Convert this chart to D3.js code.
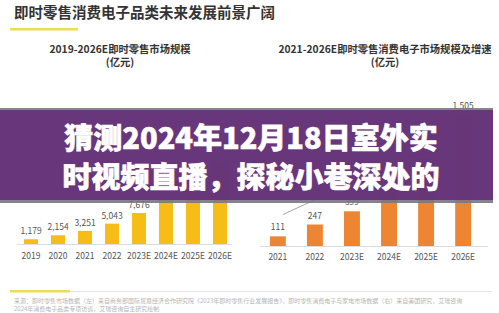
<!DOCTYPE html>
<html>
<head>
<meta charset="utf-8">
<script src="https://cdn.jsdelivr.net/npm/d3@7"></script>
<style>
  body { margin: 0; background: #fff; }
  svg { display: block; font-family: "Noto Sans CJK SC", "Noto Sans", sans-serif; }
</style>
</head>
<body>
<svg id="chart" width="499" height="313"></svg>
<script>
// left chart: 即时零售市场规模 (亿元)
var leftYears = ["2019", "2020", "2021", "2022", "2023E", "2024E", "2025E", "2026E"];
var leftValues = [1179, 2154, 3251, 5043, 7676, 11000, 15000, 20000];

// right chart: 即时零售消费电子市场规模 (亿元) + 增速 line
var rightYears = ["2021", "2022", "2023E", "2024E", "2025E", "2026E"];
var rightValues = [111, 247, 399, 640, 1000, 1505];
var rightGrowth = [24, 37, 54, 65, 72, 78];

var headline = "即时零售消费电子品类未来发展前景广阔";
var overlayLines = ["猜测2024年12月18日室外实", "时视频直播，探秘小巷深处的"];
var sourceLines = [
  "来源：即时零售市场数据（左）来自商务部国际贸易经济合作研究院《2023年即时零售行业发展报告》，即时零售消费电子与家电市场数据（右）来自美团研究，艾瑞咨询",
  "2024年消费电子品类专项访谈，艾瑞咨询自主研究绘制"
];

var fmt = d3.format(",");
var svg = d3.select("#chart");

// banner band limits, labels that would sit fully under it are not drawn
var bandTop = 108, bandBottom = 203;
function visible(y) { return y < bandTop + 4 || y > bandBottom + 1; }

/* page heading + underline */
svg.append("text").attr("x", 14).attr("y", 18)
  .attr("font-size", 14.5).attr("font-weight", "bold").attr("fill", "#333")
  .text(headline);
svg.append("rect").attr("x", 10).attr("y", 28).attr("width", 68).attr("height", 2.5)
  .attr("fill", "#eedb55");

/* chart subtitles */
function subtitle(cx, t1) {
  svg.append("text").attr("x", cx).attr("y", 52.5).attr("text-anchor", "middle")
    .attr("font-size", 10.3).attr("font-weight", "bold").attr("fill", "#333").text(t1);
  svg.append("text").attr("x", cx).attr("y", 66).attr("text-anchor", "middle")
    .attr("font-size", 10.3).attr("font-weight", "bold").attr("fill", "#333").text("(亿元)");
}
subtitle(120, "2019-2026E即时零售市场规模");
subtitle(385, "2021-2026E即时零售消费电子市场规模及增速");

/* left bars */
var xL = d3.scaleBand().domain(leftYears).range([17.5, 233.5]).paddingInner(0.48).paddingOuter(0.24);
var yL = d3.scaleLinear().domain([0, 7676]).range([244, 213]);

var gL = svg.append("g");
gL.append("line").attr("x1", 17).attr("x2", 232).attr("y1", 244.5).attr("y2", 244.5)
  .attr("stroke", "#ddd");
gL.selectAll("rect").data(leftValues).enter().append("rect")
  .attr("x", function(d, i) { return xL(leftYears[i]); })
  .attr("width", xL.bandwidth())
  .attr("y", function(d) { return yL(d); })
  .attr("height", function(d) { return yL(0) - yL(d); })
  .attr("fill", "#f6bd16");
gL.selectAll("text.val").data(leftValues.filter(function(d) { return visible(yL(d) - 5); }))
  .enter().append("text").attr("class", "val")
  .attr("x", function(d) { return xL(leftYears[leftValues.indexOf(d)]) + xL.bandwidth() / 2; })
  .attr("y", function(d) { return yL(d) - 5; })
  .attr("text-anchor", "middle").attr("font-size", 8.5).attr("fill", "#555")
  .text(function(d) { return fmt(d); });
gL.selectAll("text.cat").data(leftYears).enter().append("text").attr("class", "cat")
  .attr("x", function(d) { return xL(d) + xL.bandwidth() / 2; })
  .attr("y", 259)
  .attr("text-anchor", "middle").attr("font-size", 8.5).attr("fill", "#555")
  .text(function(d) { return d; });

/* right bars */
var xR = d3.scaleBand().domain(rightYears).range([259.5, 481.5]).paddingInner(0.57).paddingOuter(0.28);
var yR = d3.scaleLinear().domain([0, 1505]).range([246, 115]);
var yG = d3.scaleLinear().domain([0, 100]).range([246, 115]);

var gR = svg.append("g");
gR.append("line").attr("x1", 260).attr("x2", 488).attr("y1", 246.5).attr("y2", 246.5)
  .attr("stroke", "#ddd");
gR.selectAll("rect").data(rightValues).enter().append("rect")
  .attr("x", function(d, i) { return xR(rightYears[i]); })
  .attr("width", xR.bandwidth())
  .attr("y", function(d) { return yR(d); })
  .attr("height", function(d) { return yR(0) - yR(d); })
  .attr("fill", "#ee8533");
gR.selectAll("text.val").data(rightValues.filter(function(d) { return visible(yR(d) - 6); }))
  .enter().append("text").attr("class", "val")
  .attr("x", function(d) { return xR(rightYears[rightValues.indexOf(d)]) + xR.bandwidth() / 2; })
  .attr("y", function(d) { return yR(d) - 6; })
  .attr("text-anchor", "middle").attr("font-size", 8.5).attr("fill", "#555")
  .text(function(d) { return fmt(d); });
gR.selectAll("text.cat").data(rightYears).enter().append("text").attr("class", "cat")
  .attr("x", function(d) { return xR(d) + xR.bandwidth() / 2; })
  .attr("y", 260)
  .attr("text-anchor", "middle").attr("font-size", 8.5).attr("fill", "#555")
  .text(function(d) { return d; });

var growthLine = d3.line()
  .x(function(d, i) { return xR(rightYears[i]) + xR.bandwidth() / 2 + 5; })
  .y(function(d) { return yG(d); });
gR.append("path").datum(rightGrowth).attr("d", growthLine)
  .attr("fill", "none").attr("stroke", "#8a8a8a").attr("stroke-width", 0.8);

/* purple banner across the middle */
var band = svg.append("g");
band.append("rect").attr("x", 0).attr("y", bandTop).attr("width", 493).attr("height", bandBottom - bandTop)
  .attr("fill", "#7a7580").attr("opacity", 0.9);
band.append("rect").attr("x", 0).attr("y", bandTop + 2).attr("width", 493).attr("height", bandBottom - bandTop - 5)
  .attr("fill", "#652e78").attr("opacity", 0.9);
band.selectAll("text").data(overlayLines).enter().append("text")
  .attr("x", 251)
  .attr("y", function(d, i) { return 149 + i * 39; })
  .attr("text-anchor", "middle")
  .attr("font-size", 29).attr("font-weight", 900).attr("fill", "#fff")
  .attr("stroke", "#fff").attr("stroke-width", 0.6)
  .text(function(d) { return d; });

/* footer */
svg.append("line").attr("x1", 70).attr("x2", 492).attr("y1", 291.5).attr("y2", 291.5)
  .attr("stroke", "#e6e6e6");
svg.append("rect").attr("x", 10).attr("y", 290).attr("width", 60).attr("height", 2.5)
  .attr("fill", "#eedb55");
svg.selectAll("text.src").data(sourceLines).enter().append("text").attr("class", "src")
  .attr("x", 14)
  .attr("y", function(d, i) { return 302.5 + i * 8; })
  .attr("font-size", 6).attr("fill", "#b5b5b5")
  .text(function(d) { return d; });
</script>
</body>
</html>
